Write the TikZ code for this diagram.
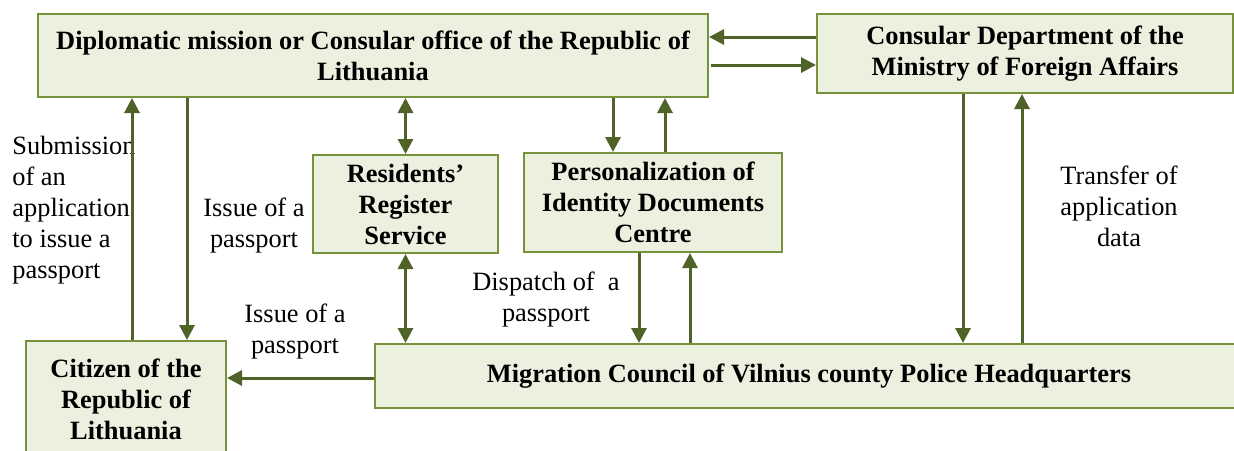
\documentclass[tikz,border=0pt]{standalone}
\usepackage{fontspec}
\setmainfont{Liberation Serif}
\usetikzlibrary{arrows.meta}
\definecolor{boxfill}{HTML}{EBF1DE}
\definecolor{boxline}{HTML}{76923C}
\definecolor{arrowcol}{HTML}{4F6228}
\tikzset{
  unit/.style = {draw=boxline, fill=boxfill, line width=1pt, align=center,
                 inner sep=0pt, font=\fontsize{13.2}{15.5}\selectfont\bfseries},
  label/.style = {align=center, inner sep=0pt, font=\fontsize{13.2}{15.5}\selectfont},
  arr/.style = {draw=arrowcol, line width=1.5pt, -{Triangle[width=7.5pt,length=7.5pt]}},
  darr/.style = {arr, {Triangle[width=7.5pt,length=7.5pt]}-{Triangle[width=7.5pt,length=7.5pt]}}
}

\begin{document}
\begin{tikzpicture}[x=0.5pt, y=-0.5pt]
	\useasboundingbox (0,0) rectangle (1234,450);
	
	% Boxes
	\node[unit, minimum width=335pt, minimum height=41.5pt] (dip) at (373,55.5) {Diplomatic mission or Consular office of the Republic of\\Lithuania};
	\node[unit, minimum width=208pt, minimum height=39.5pt] (cons) at (1025,53.5) {Consular Department of the\\Ministry of Foreign Affairs};
	\node[unit, minimum width=92.5pt, minimum height=49pt] (res) at (405.5,204) {Residents'\\Register\\Service};
	\node[unit, minimum width=129pt, minimum height=49.5pt] (pers) at (653,202.5) {Personalization of\\Identity Documents\\Centre};
	\node[unit, minimum width=100pt, minimum height=58pt] (cit) at (126,399) {Citizen of the\\Republic of\\Lithuania};
	\node[unit, minimum width=434pt, minimum height=32pt] (mig) at (809,376) {Migration Council of Vilnius county Police Headquarters};
	
	% Labels
	\node[label, align=left, anchor=west] (lsub) at (12,210.5) {Submission\\of an\\application\\to issue a\\passport};
	\node[label] (liss1) at (254,226) {Issue of a\\passport};
	\node[label] (liss2) at (295,332) {Issue of a\\passport};
	\node[label] (ldisp) at (546,300) {Dispatch of~ a\\passport};
	\node[label] (ltrans) at (1119,206) {Transfer of\\application\\data};
	
	% Citizen <-> diplomatic mission
	\draw[arr] (cit.north -| 132,0) -- (dip.south -| 132,0);
	\draw[arr] (dip.south -| 187,0) -- (cit.north -| 187,0);
	
	% Residents' register
	\draw[darr] (dip.south -| res.north) -- (res.north);
	\draw[darr] (res.south) -- (mig.north -| res.south);
	
	% Personalization centre
	\draw[arr] (dip.south -| 613,0) -- (pers.north -| 613,0);
	\draw[arr] (pers.north -| 665,0) -- (dip.south -| 665,0);
	\draw[arr] (pers.south -| 639,0) -- (mig.north -| 639,0);
	\draw[arr] (mig.north -| 690,0) -- (pers.south -| 690,0);
	
	% Consular department
	\draw[arr] (cons.west |- 0,37) -- (dip.east |- 0,37);
	\draw[arr] ([xshift=1pt]dip.east |- 0,65) -- (cons.west |- 0,65);
	\draw[arr] (cons.south -| 963,0) -- (mig.north -| 963,0);
	\draw[arr] (mig.north -| 1022,0) -- (cons.south -| 1022,0);
	
	% Migration council -> citizen
	\draw[arr] (mig.west |- 0,378) -- (cit.east |- 0,378);
	
\end{tikzpicture}
\end{document}
